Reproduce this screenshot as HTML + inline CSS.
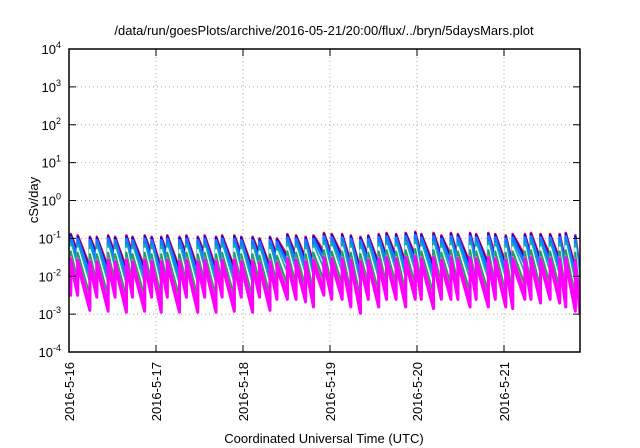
<!DOCTYPE html>
<html><head><meta charset="utf-8"><style>
html,body{margin:0;padding:0;background:#fff;}
svg{display:block;font-family:"Liberation Sans",sans-serif;}
</style></head><body>
<svg id="chart" width="640" height="448" viewBox="0 0 640 448">
<text x="324" y="35" text-anchor="middle" font-size="13" fill="#000">/data/run/goesPlots/archive/2016-05-21/20:00/flux/../bryn/5daysMars.plot</text>
<g id="grid"></g>
<g id="series"></g>
<g id="axes"></g>
<text transform="translate(38,200) rotate(-90)" text-anchor="middle" font-size="13">cSv/day</text>
<text x="324" y="443" text-anchor="middle" font-size="13">Coordinated Universal Time (UTC)</text>
</svg>
<script>
const xTickLabels = ["2016-5-16","2016-5-17","2016-5-18","2016-5-19","2016-5-20","2016-5-21"];
const yTickExps = [-4,-3,-2,-1,0,1,2,3,4];
const peakDay = [0.02,0.10,0.24,0.32,0.45,0.53,0.66,0.73,0.87,0.95,1.06,1.13,1.27,1.35,1.48,1.56,1.69,1.76,1.90,1.98,2.11,2.19,2.31,2.39,2.51,2.61,2.72,2.81,2.93,3.02,3.14,3.24,3.35,3.44,3.56,3.65,3.76,3.87,3.98,4.05,4.19,4.28,4.39,4.47,4.61,4.68,4.82,4.90,5.02,5.10,5.24,5.31,5.42,5.53,5.64,5.71,5.82];
const peakVal = [0.13,0.12,0.11,0.11,0.12,0.11,0.12,0.11,0.12,0.11,0.11,0.12,0.11,0.12,0.11,0.12,0.11,0.12,0.12,0.11,0.11,0.10,0.11,0.10,0.13,0.12,0.11,0.12,0.14,0.13,0.13,0.12,0.11,0.12,0.13,0.14,0.13,0.14,0.15,0.13,0.14,0.12,0.14,0.13,0.14,0.13,0.14,0.13,0.12,0.13,0.13,0.14,0.13,0.13,0.13,0.14,0.12];
const troughVal = [0.045,0.018,0.04,0.017,0.04,0.016,0.04,0.017,0.04,0.016,0.04,0.016,0.04,0.016,0.04,0.016,0.04,0.017,0.04,0.016,0.04,0.018,0.035,0.035,0.035,0.03,0.022,0.045,0.035,0.035,0.022,0.015,0.035,0.022,0.035,0.035,0.022,0.035,0.035,0.02,0.035,0.035,0.035,0.022,0.035,0.022,0.035,0.022,0.02,0.035,0.035,0.028,0.035,0.028,0.022,0.017,0.014];
const seriesColor = ["#ff0000","#0000ff","#1e78ff","#00b8a0","#ffffff","#20a060","#c08080","#ff00ff","#ff00ff"];
const seriesPeak = [1,0.92,0.8,0.55,0.45,0.35,0.25,0.22,0.17];
const seriesTrough = [1,0.8,0.6,0.34,0.26,0.17,0.12,0.09,0.07];
const seriesWidth = [2.5,2.5,3,2.5,2,2,2,3,3];

const L=69,R=580,T=49,B=352,dayPx=87,decadePx=(B-T)/8;
const xs=d=>L+d*dayPx;
const ys=v=>B-(Math.log10(v)+4)*decadePx;
const NS="http://www.w3.org/2000/svg";
function mk(tag,attrs,parent){const e=document.createElementNS(NS,tag);for(const k in attrs)e.setAttribute(k,attrs[k]);parent.appendChild(e);return e;}
const grid=document.getElementById('grid'),axes=document.getElementById('axes'),ser=document.getElementById('series');

yTickExps.forEach((p,i)=>{
  const y=ys(Math.pow(10,p));
  if(p>-4&&p<4){const g=mk('line',{x1:L,x2:R,y1:y,y2:y,stroke:'#aaa','stroke-width':1,'stroke-dasharray':'1,3'},grid);
  
  }
  mk('line',{x1:L,x2:L+7,y1:y,y2:y,stroke:'#000'},axes);
  mk('line',{x1:R-7,x2:R,y1:y,y2:y,stroke:'#000'},axes);
  const t=mk('text',{x:L-8,y:y+5,'text-anchor':'end','font-size':13},axes);
  
  
  t.textContent='10';
  const s=mk('tspan',{dy:-6,'font-size':9},t);s.textContent=String(p);
});
xTickLabels.forEach((lab,i)=>{
  const x=xs(i);
  if(i>0){const g=mk('line',{x1:x,x2:x,y1:T,y2:B,stroke:'#aaa','stroke-width':1,'stroke-dasharray':'1,3'},grid);
  
  }
  mk('line',{x1:x,x2:x,y1:B-7,y2:B,stroke:'#000'},axes);
  mk('line',{x1:x,x2:x,y1:T,y2:T+7,stroke:'#000'},axes);
  const t=mk('text',{transform:`translate(${x+5},362) rotate(-90)`,'text-anchor':'end','font-size':13},axes);
  
  
  t.textContent=lab;
});
const frame=mk('rect',{x:L,y:T,width:R-L,height:B-T,fill:'none',stroke:'#000','stroke-width':1.5},axes);



const endDay=(R-L)/dayPx;
seriesColor.forEach((c,s)=>{
  let d=`M${xs(0)},${ys(troughVal[0]*seriesTrough[s]*1.5)}`;
  for(let i=0;i<peakDay.length;i++){
    d+=` L${xs(peakDay[i])},${ys(troughVal[Math.max(0,i-1)]*seriesTrough[s])}`;
    d+=` L${xs(peakDay[i])},${ys(peakVal[i]*seriesPeak[s])}`;
    const nd=i+1<peakDay.length?peakDay[i+1]:endDay;
    d+=` L${xs(nd)},${ys(troughVal[i]*seriesTrough[s])}`;
  }
  const p=mk('path',{d:d,fill:'none',stroke:c,'stroke-width':seriesWidth[s],'stroke-linejoin':'round'},ser);
  
  
});
const clip=mk('clipPath',{id:'pc'},document.getElementById('chart'));
mk('rect',{x:L,y:T,width:R-L,height:B-T},clip);
ser.setAttribute('clip-path','url(#pc)');
</script>
</body></html>
